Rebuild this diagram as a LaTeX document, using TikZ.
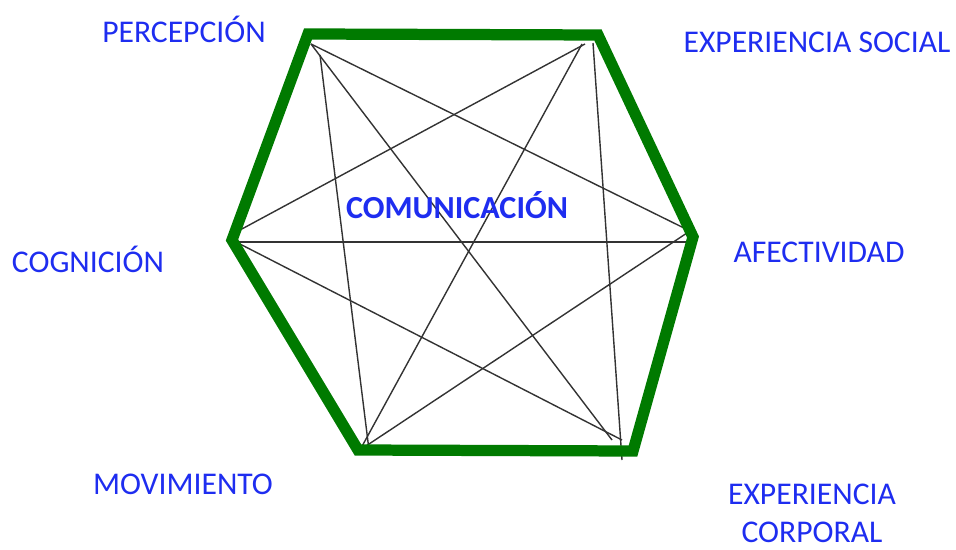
\documentclass[tikz,border=0pt]{standalone}
\usepackage{fontspec}
\setmainfont{Carlito}
\definecolor{etiqueta}{RGB}{30,45,240}
\definecolor{verde}{RGB}{0,122,0}

\begin{document}
\begin{tikzpicture}
		[x=0.02cm,y=-0.02cm,
		every node/.style={text=etiqueta,font=\fontsize{18}{21.5}\selectfont,anchor=base,inner sep=0pt},
		lado/.style={draw=verde,line width=6.4pt},
		diag/.style={draw=black!80,line width=0.8pt}]
		\useasboundingbox (0,0) rectangle (956,550);
		
		\coordinate (A) at (308,34);
		\coordinate (B) at (598,35);
		\coordinate (C) at (693,237);
		\coordinate (D) at (633,451);
		\coordinate (E) at (358,450);
		\coordinate (F) at (232,240);
		
		\coordinate (a1) at (311,44);
		\coordinate (a2) at (320,55);
		\coordinate (b1) at (593,43);
		\coordinate (b2) at (582,44);
		\coordinate (b3) at (585,44);
		\coordinate (c1) at (690,231);
		\coordinate (c2) at (690,242);
		\coordinate (d1) at (612,440);
		\coordinate (d2) at (622,440);
		\coordinate (d3) at (622,460);
		\coordinate (e1) at (360,450);
		\coordinate (e2) at (369,450);
		\coordinate (f1) at (240,230);
		\coordinate (f2) at (230,242);
		\coordinate (f3) at (238,243);
		
		\draw[diag] (a1) -- (c1);
		\draw[diag] (a1) -- (d1);
		\draw[diag] (a2) -- (e2);
		\draw[diag] (b1) -- (d3);
		\draw[diag] (b2) -- (e1);
		\draw[diag] (b3) -- (f1);
		\draw[diag] (f2) -- (c2);
		\draw[diag] (f3) -- (d2);
		\draw[diag] (c1) -- (e1);
		
		\draw[lado] (A) -- (B) -- (C) -- (D) -- (E) -- (F) -- cycle;
		
		\node (percepcion) at (184,43) {PERCEPCIÓN};
		\node (social) at (817,53) {EXPERIENCIA SOCIAL};
		\node (cognicion) at (88,273) {COGNICIÓN};
		\node (afectividad) at (819,263) {AFECTIVIDAD};
		\node (movimiento) at (183,494) {MOVIMIENTO};
		\node[align=center,anchor=north] (corporal) at (812,484) {EXPERIENCIA\\CORPORAL};
		\node[font=\fontsize{18.3}{22}\selectfont\bfseries] (comunicacion) at (457,219) {COMUNICACIÓN};
		
\end{tikzpicture}
\end{document}
